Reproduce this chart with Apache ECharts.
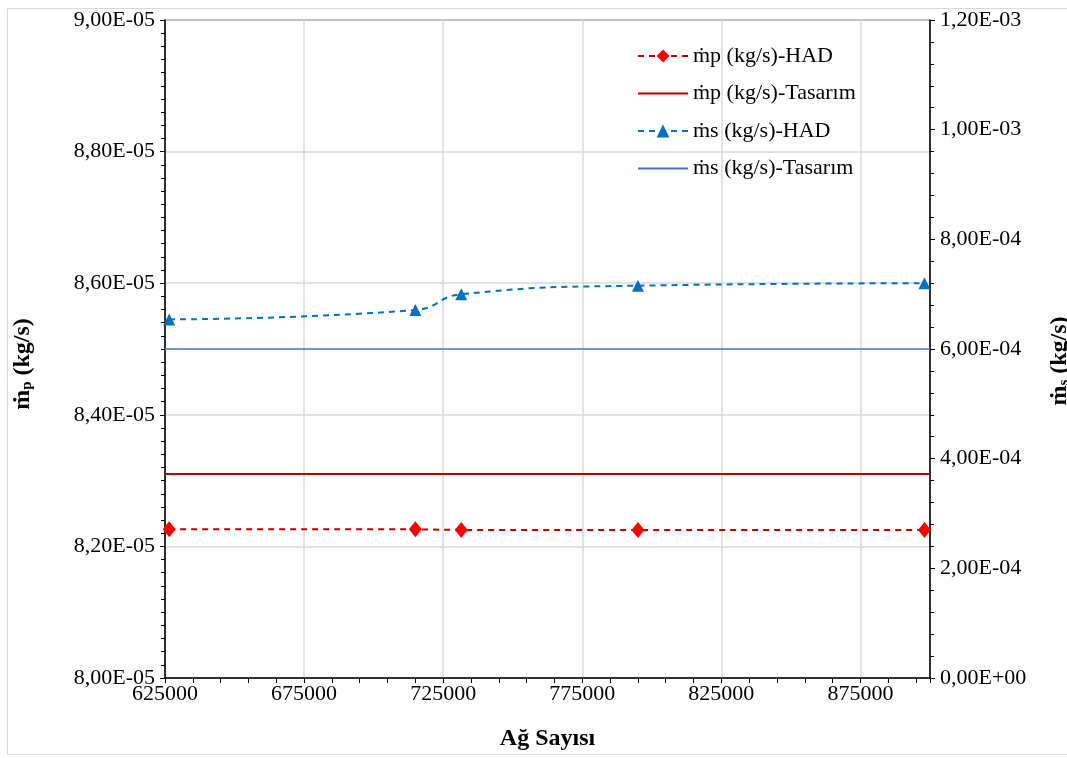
<!DOCTYPE html>
<html>
<head>
<meta charset="utf-8">
<script src="https://cdn.jsdelivr.net/npm/echarts@6/dist/echarts.min.js"></script>
<style>
html,body{margin:0;padding:0;background:#fff;overflow:hidden;}
#chart{width:1067px;height:758px;}
</style>
</head>
<body>
<div id="chart"></div>
<script>
// ---- data ----
const meshCounts = [626500, 715000, 731500, 795000, 898000];
const mpHAD = [8.226e-5, 8.226e-5, 8.225e-5, 8.225e-5, 8.225e-5];
const msHAD = [6.54e-4, 6.71e-4, 7.00e-4, 7.155e-4, 7.20e-4];
const designRange = [625000, 900000];
const mpDesign = [8.31e-5, 8.31e-5];
const msDesign = [6.0e-4, 6.0e-4];
const seriesNames = ['ṁp (kg/s)-HAD', 'ṁp (kg/s)-Tasarım', 'ṁs (kg/s)-HAD', 'ṁs (kg/s)-Tasarım'];
const xAxisTitle = 'Ağ Sayısı';

function sci(v) {
  const parts = Number(v).toExponential(2).split('e');
  const m = parts[0].replace('.', ',');
  let e = parseInt(parts[1], 10);
  const sign = e < 0 ? '-' : '+';
  e = Math.abs(e);
  return m + 'E' + sign + (e < 10 ? '0' + e : '' + e);
}
const pair = (xs, ys) => xs.map((x, i) => [x, ys[i]]);

const FONT = 'Liberation Serif';
const labelStyle = { color: '#000', fontFamily: FONT, fontSize: 22 };
const titleRich = {
  a: { fontFamily: FONT, fontSize: 24, fontWeight: 'bold', color: '#000' },
  b: { fontFamily: FONT, fontSize: 15, fontWeight: 'bold', color: '#000', verticalAlign: 'bottom', padding: [10, 0, 0, 0] }
};

const chart = echarts.init(document.getElementById('chart'));
chart.setOption({
  animation: false,
  backgroundColor: '#fff',
  graphic: [{
    type: 'rect', left: 5, top: 6, silent: true,
    shape: { width: 1080, height: 746 },
    style: { fill: 'none', stroke: '#d9d9d9', lineWidth: 1 }
  }],
  grid: {
    left: 165, right: 137, top: 20, bottom: 80,
    outerBoundsMode: 'none', containLabel: false,
    show: true, borderColor: '#000', borderWidth: 1, backgroundColor: 'transparent'
  },
  legend: {
    orient: 'vertical', left: 632, top: 40,
    itemWidth: 50, itemHeight: 16, itemGap: 15.5,
    textStyle: { fontFamily: FONT, fontSize: 22, color: '#000' },
    data: [
      { name: seriesNames[0] },
      { name: seriesNames[1], itemStyle: { opacity: 0 } },
      { name: seriesNames[2] },
      { name: seriesNames[3], itemStyle: { opacity: 0 } }
    ]
  },
  xAxis: {
    type: 'value', min: 625000, max: 900000, interval: 50000,
    name: xAxisTitle, nameLocation: 'middle', nameGap: 49,
    nameTextStyle: { fontFamily: FONT, fontSize: 24, fontWeight: 'bold', color: '#000' },
    axisLine: { show: true, lineStyle: { color: '#000', width: 1.5 } },
    axisTick: { show: true, length: 5, lineStyle: { color: '#000' } },
    minorTick: { show: true, splitNumber: 5, length: 5, lineStyle: { color: '#000' } },
    splitLine: { show: true, lineStyle: { color: '#d9d9d9', width: 1.5 } },
    axisLabel: { ...labelStyle, margin: 5, showMaxLabel: false, formatter: v => String(v) }
  },
  yAxis: [{
    type: 'value', min: 8.0e-5, max: 9.0e-5, interval: 0.2e-5, position: 'left',
    name: '{a|ṁ}{b|p}{a| (kg/s)}', nameLocation: 'middle', nameRotate: 90, nameGap: 130,
    nameTextStyle: { rich: titleRich, padding: [0, 30, 0, 0] },
    axisLine: { show: true, lineStyle: { color: '#000', width: 1.5 } },
    axisTick: { show: true, length: 5, lineStyle: { color: '#000' } },
    minorTick: { show: true, splitNumber: 10, length: 4, lineStyle: { color: '#000' } },
    splitLine: { show: true, lineStyle: { color: '#d9d9d9', width: 1.5 } },
    axisLabel: { ...labelStyle, margin: 10, formatter: sci }
  }, {
    type: 'value', min: 0, max: 1.2e-3, interval: 2e-4, position: 'right',
    name: '{a|ṁ}{b|s}{a| (kg/s)}', nameLocation: 'middle', nameRotate: 90, nameGap: 117,
    nameTextStyle: { rich: titleRich, padding: [0, 24, 0, 0] },
    axisLine: { show: true, lineStyle: { color: '#000', width: 1.5 } },
    axisTick: { show: true, length: 5, lineStyle: { color: '#000' } },
    minorTick: { show: true, splitNumber: 5, length: 4, lineStyle: { color: '#000' } },
    splitLine: { show: false },
    axisLabel: { ...labelStyle, margin: 10, formatter: sci }
  }],
  series: [{
    name: seriesNames[0], type: 'line', yAxisIndex: 0,
    data: pair(meshCounts, mpHAD),
    symbol: 'diamond', symbolSize: [13, 16],
    itemStyle: { color: '#ff0000' },
    lineStyle: { color: '#c00000', width: 2, type: [6, 5] }
  }, {
    name: seriesNames[1], type: 'line', yAxisIndex: 0,
    data: pair(designRange, mpDesign),
    symbol: 'none', itemStyle: { color: '#c00000' },
    lineStyle: { color: '#c00000', width: 2 }
  }, {
    name: seriesNames[2], type: 'line', yAxisIndex: 1, smooth: true,
    data: pair(meshCounts, msHAD),
    symbol: 'triangle', symbolSize: 12,
    itemStyle: { color: '#0070c0' },
    lineStyle: { color: '#0070c0', width: 2, type: [6, 5] }
  }, {
    name: seriesNames[3], type: 'line', yAxisIndex: 1,
    data: pair(designRange, msDesign),
    symbol: 'none', itemStyle: { color: '#4472c4' },
    lineStyle: { color: '#4472c4', width: 1.5 }
  }]
});
</script>
</body>
</html>
